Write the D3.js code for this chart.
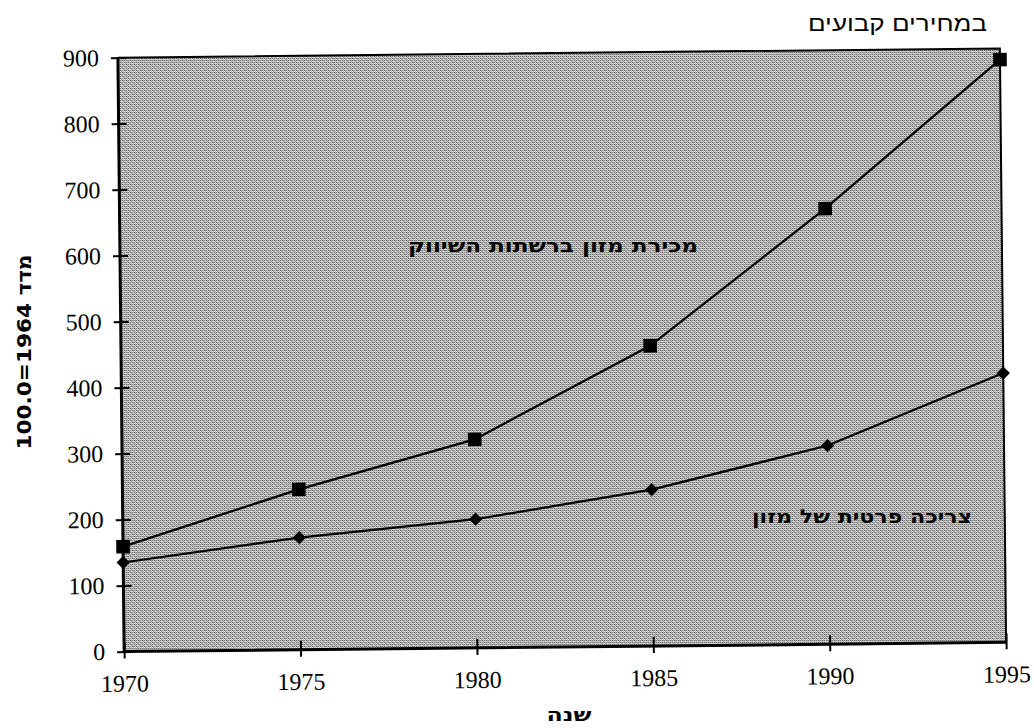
<!DOCTYPE html>
<html lang="he">
<head>
<meta charset="utf-8">
<script src="https://cdn.jsdelivr.net/npm/d3@7"></script>
<style>
  html, body { margin: 0; padding: 0; background: #fff; }
  svg { display: block; }
</style>
</head>
<body>
<svg id="chart" width="1034" height="728"></svg>
<script>
// values (index, 1964 = 100.0)
const years = [1970, 1975, 1980, 1985, 1990, 1995];
const foodSales = [159, 243, 316, 455, 660, 883];        // מכירת מזון ברשתות השיווק
const foodConsumption = [135, 170, 195, 237, 301, 408];  // צריכה פרטית של מזון
const yTicks = [0, 100, 200, 300, 400, 500, 600, 700, 800, 900];

const titleText = 'במחירים קבועים';
const yTitle = 'מדד 1964=100.0';
const xTitle = 'שנה';
const salesLabel = 'מכירת מזון ברשתות השיווק';
const consumptionLabel = 'צריכה פרטית של מזון';

const svg = d3.select('#chart');

const plotLeft = 121, plotRight = 1003, plotTop = 53, plotBottom = 647;

const x = d3.scaleLinear().domain([1970, 1995]).range([plotLeft, plotRight]);
const y = d3.scaleLinear().domain([0, 900]).range([plotBottom, plotTop]);

// halftone-ish fill of the plot area
const defs = svg.append('defs');
const pat = defs.append('pattern')
    .attr('id', 'dots')
    .attr('width', 4)
    .attr('height', 4)
    .attr('patternUnits', 'userSpaceOnUse')
    .attr('patternTransform', 'rotate(0.6)');
pat.append('rect').attr('width', 4).attr('height', 4).attr('fill', '#fff');
[[0, 0, '#000'], [2, 2, '#000'], [2, 0, '#222'], [0, 2, '#222'],
 [1, 1, '#888'], [3, 3, '#888'], [1, 3, '#bbb'], [3, 1, '#bbb']]
    .forEach(p => pat.append('rect')
        .attr('x', p[0]).attr('y', p[1])
        .attr('width', 1).attr('height', 1)
        .attr('fill', p[2]));

// the scan is slightly tilted
const g = svg.append('g')
    .attr('transform', 'rotate(-0.6, 562, 350)');

g.append('rect')
    .attr('x', plotLeft)
    .attr('y', plotTop)
    .attr('width', plotRight - plotLeft)
    .attr('height', plotBottom - plotTop)
    .attr('fill', 'url(#dots)');

// frame: top and right thinner
g.append('path')
    .attr('d', `M${plotLeft},${plotTop}H${plotRight}V${plotBottom}`)
    .attr('fill', 'none')
    .attr('stroke', '#000')
    .attr('stroke-width', 2);

// y axis
const yAxis = g.append('g')
    .attr('transform', `translate(${plotLeft},0)`)
    .call(d3.axisLeft(y).tickValues(yTicks).tickSizeInner(7).tickSizeOuter(0).tickPadding(12));
yAxis.select('.domain').remove();
yAxis.selectAll('.tick line').attr('x1', 8).attr('stroke', '#000').attr('stroke-width', 2);
yAxis.selectAll('.tick text')
    .attr('font-family', '"Liberation Serif", "Times New Roman", serif')
    .attr('font-size', 24)
    .attr('fill', '#000');

// x axis
const xAxis = g.append('g')
    .attr('transform', `translate(0,${plotBottom})`)
    .call(d3.axisBottom(x).tickValues(years).tickFormat(d3.format('d')).tickSizeInner(7).tickSizeOuter(0).tickPadding(16));
xAxis.select('.domain').remove();
xAxis.selectAll('.tick line').attr('y1', -9).attr('stroke', '#000').attr('stroke-width', 2);
xAxis.selectAll('.tick text')
    .attr('font-family', '"Liberation Serif", "Times New Roman", serif')
    .attr('font-size', 24)
    .attr('fill', '#000');

// heavy axis lines
g.append('path')
    .attr('d', `M${plotLeft},${plotTop}V${plotBottom}H${plotRight}`)
    .attr('fill', 'none')
    .attr('stroke', '#000')
    .attr('stroke-width', 3);

const line = d3.line()
    .x((d, i) => x(years[i]))
    .y(d => y(d));

g.append('path')
    .datum(foodSales)
    .attr('d', line)
    .attr('fill', 'none')
    .attr('stroke', '#000')
    .attr('stroke-width', 2.2);

g.append('path')
    .datum(foodConsumption)
    .attr('d', line)
    .attr('fill', 'none')
    .attr('stroke', '#000')
    .attr('stroke-width', 2.2);

// square markers
g.selectAll('.sq')
    .data(foodSales)
    .join('path')
    .attr('class', 'sq')
    .attr('transform', (d, i) => `translate(${x(years[i])},${y(d)})`)
    .attr('d', d3.symbol(d3.symbolSquare, 185))
    .attr('fill', '#000');

// diamond markers (square turned 45deg)
g.selectAll('.dm')
    .data(foodConsumption)
    .join('path')
    .attr('class', 'dm')
    .attr('transform', (d, i) => `translate(${x(years[i])},${y(d)}) rotate(45)`)
    .attr('d', d3.symbol(d3.symbolSquare, 88))
    .attr('fill', '#000');

// texts
const hebBold = '"DejaVu Sans", "Liberation Sans", sans-serif';

svg.append('text')
    .attr('x', 987)
    .attr('y', 31)
    .attr('direction', 'rtl')
    .attr('text-anchor', 'start')
    .attr('font-family', '"Liberation Sans", Arial, sans-serif')
    .attr('font-size', 21)
    .attr('textLength', 179)
    .attr('lengthAdjust', 'spacingAndGlyphs')
    .text(titleText);

svg.append('text')
    .attr('transform', 'translate(31,352) rotate(-90)')
    .attr('direction', 'rtl')
    .attr('text-anchor', 'middle')
    .attr('font-family', hebBold)
    .attr('font-weight', 'bold')
    .attr('font-size', 20)
    .attr('textLength', 195)
    .attr('lengthAdjust', 'spacingAndGlyphs')
    .text(yTitle);

svg.append('text')
    .attr('x', 569)
    .attr('y', 721)
    .attr('direction', 'rtl')
    .attr('text-anchor', 'middle')
    .attr('font-family', hebBold)
    .attr('font-weight', 'bold')
    .attr('font-size', 18)
    .attr('textLength', 45)
    .attr('lengthAdjust', 'spacingAndGlyphs')
    .text(xTitle);

svg.append('text')
    .attr('x', 698)
    .attr('y', 252)
    .attr('direction', 'rtl')
    .attr('text-anchor', 'start')
    .attr('font-family', hebBold)
    .attr('font-weight', 'bold')
    .attr('font-size', 19)
    .attr('textLength', 290)
    .attr('lengthAdjust', 'spacingAndGlyphs')
    .text(salesLabel);

svg.append('text')
    .attr('x', 972)
    .attr('y', 523)
    .attr('direction', 'rtl')
    .attr('text-anchor', 'start')
    .attr('font-family', hebBold)
    .attr('font-weight', 'bold')
    .attr('font-size', 19)
    .attr('textLength', 220)
    .attr('lengthAdjust', 'spacingAndGlyphs')
    .text(consumptionLabel);
</script>
</body>
</html>
